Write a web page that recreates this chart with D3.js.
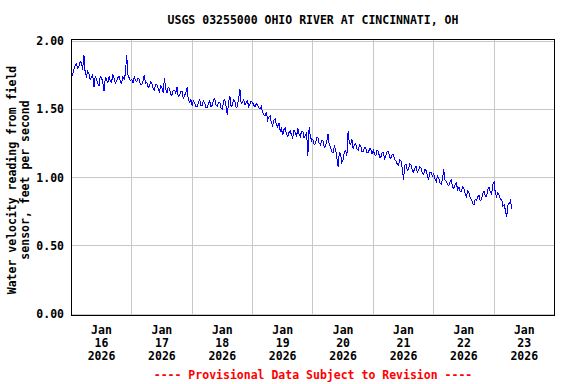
<!DOCTYPE html>
<html>
<head>
<meta charset="utf-8">
<script src="https://cdn.jsdelivr.net/npm/d3@7"></script>
<style>
  body { margin: 0; background: #fff; }
  text { font-family: 'DejaVu Sans Mono', monospace; font-weight: bold; font-size: 11.5px; }
</style>
</head>
<body>
<div id="chart"></div>
<script>
const title = 'USGS 03255000 OHIO RIVER AT CINCINNATI, OH'
const yLabel = ['Water velocity reading from field', 'sensor, feet per second']
const footer = '---- Provisional Data Subject to Revision ----'
const dayTicks = ['2026-01-16', '2026-01-17', '2026-01-18', '2026-01-19',
  '2026-01-20', '2026-01-21', '2026-01-22', '2026-01-23']
const yTicks = [0, 0.5, 1, 1.5, 2]
const startTime = '2026-01-16T00:00'
const stepMinutes = 30
// half-hourly readings, ft/s, one row per day
const velocity = [
  1.76, 1.75, 1.79, 1.82, 1.83, 1.80, 1.81, 1.85, 1.84, 1.79, 1.90, 1.77, 1.74, 1.78, 1.76, 1.72, 1.73, 1.75, 1.66, 1.74, 1.72, 1.69, 1.67, 1.74,
  1.73, 1.70, 1.63, 1.73, 1.72, 1.69, 1.74, 1.71, 1.70, 1.75, 1.73, 1.69, 1.71, 1.73, 1.74, 1.70, 1.69, 1.74, 1.72, 1.76, 1.90, 1.75, 1.73, 1.71,
  1.72, 1.69, 1.74, 1.71, 1.70, 1.73, 1.72, 1.68, 1.68, 1.71, 1.75, 1.69, 1.70, 1.66, 1.67, 1.70, 1.69, 1.65, 1.64, 1.68, 1.68, 1.65, 1.63, 1.67,
  1.66, 1.62, 1.73, 1.65, 1.62, 1.66, 1.65, 1.61, 1.60, 1.64, 1.64, 1.62, 1.66, 1.59, 1.60, 1.63, 1.63, 1.58, 1.60, 1.62, 1.66, 1.57, 1.55, 1.57,
  1.53, 1.56, 1.55, 1.52, 1.52, 1.55, 1.57, 1.53, 1.53, 1.56, 1.55, 1.51, 1.51, 1.54, 1.56, 1.52, 1.53, 1.57, 1.58, 1.53, 1.52, 1.55, 1.55, 1.51,
  1.50, 1.56, 1.57, 1.52, 1.46, 1.55, 1.60, 1.52, 1.53, 1.57, 1.56, 1.51, 1.52, 1.58, 1.65, 1.54, 1.55, 1.57, 1.53, 1.55, 1.56, 1.52, 1.54, 1.56,
  1.55, 1.53, 1.52, 1.54, 1.53, 1.51, 1.50, 1.52, 1.48, 1.46, 1.45, 1.48, 1.42, 1.44, 1.45, 1.40, 1.38, 1.42, 1.43, 1.39, 1.37, 1.40, 1.34, 1.36,
  1.31, 1.35, 1.36, 1.32, 1.30, 1.33, 1.34, 1.31, 1.29, 1.35, 1.33, 1.30, 1.36, 1.32, 1.30, 1.34, 1.34, 1.29, 1.31, 1.33, 1.16, 1.37, 1.30, 1.27,
  1.28, 1.24, 1.25, 1.29, 1.29, 1.25, 1.24, 1.27, 1.27, 1.22, 1.23, 1.26, 1.32, 1.24, 1.22, 1.19, 1.18, 1.23, 1.21, 1.15, 1.08, 1.18, 1.17, 1.11,
  1.13, 1.19, 1.20, 1.16, 1.34, 1.25, 1.24, 1.28, 1.21, 1.24, 1.25, 1.21, 1.20, 1.24, 1.23, 1.19, 1.19, 1.22, 1.22, 1.18, 1.18, 1.21, 1.21, 1.17,
  1.20, 1.17, 1.16, 1.20, 1.19, 1.15, 1.15, 1.18, 1.18, 1.14, 1.16, 1.19, 1.19, 1.15, 1.14, 1.17, 1.17, 1.13, 1.12, 1.10, 1.09, 1.13, 1.12, 1.07,
  0.98, 1.09, 1.10, 1.05, 1.06, 1.10, 1.09, 1.05, 1.04, 1.07, 1.08, 1.04, 1.05, 1.08, 1.07, 1.03, 1.02, 1.06, 1.05, 1.01, 0.99, 1.04, 1.04, 1.01,
  1.03, 0.99, 0.97, 1.01, 1.00, 0.96, 0.95, 0.99, 1.06, 0.98, 0.97, 0.95, 0.94, 0.97, 0.98, 0.93, 0.92, 0.95, 0.96, 0.91, 0.93, 0.90, 0.90, 0.93,
  0.92, 0.88, 0.86, 0.90, 0.89, 0.85, 0.84, 0.81, 0.80, 0.84, 0.83, 0.86, 0.87, 0.83, 0.84, 0.88, 0.90, 0.86, 0.86, 0.91, 0.93, 0.89, 0.88, 0.95,
  0.97, 0.88, 0.86, 0.89, 0.87, 0.84, 0.84, 0.79, 0.80, 0.76, 0.71, 0.80, 0.81, 0.83, 0.77
]

const width = 576,
  height = 384
const plot = {left: 71.5, right: 554.5, top: 39.5, bottom: 315.5}

const parseDay = d3.timeParse('%Y-%m-%d')
const parseTime = d3.timeParse('%Y-%m-%dT%H:%M')
const t0 = parseTime(startTime)
const data = velocity.map((v, i) => ({t: d3.timeMinute.offset(t0, i * stepMinutes), v: v}))
const days = dayTicks.map(parseDay)

const x = d3.scaleTime()
  .domain([days[0], d3.timeDay.offset(days[days.length - 1], 1)])
  .range([71.3, 554.5])
const y = d3.scaleLinear()
  .domain([0, 2])
  .range([314, 41])

const svg = d3.select('#chart').append('svg')
  .attr('width', width)
  .attr('height', height)

const snap = v => Math.floor(v) + 0.5

// grid
svg.append('g')
  .selectAll('line')
  .data(days.slice(1))
  .enter().append('line')
  .attr('x1', d => snap(x(d)))
  .attr('x2', d => snap(x(d)))
  .attr('y1', plot.top)
  .attr('y2', plot.bottom)
  .attr('stroke', '#c8c8c8')
svg.append('g')
  .selectAll('line')
  .data(yTicks)
  .enter().append('line')
  .attr('x1', plot.left)
  .attr('x2', plot.right)
  .attr('y1', d => snap(y(d)))
  .attr('y2', d => snap(y(d)))
  .attr('stroke', '#c8c8c8')

const line = d3.line()
  .x(d => x(d.t))
  .y(d => y(d.v))
svg.append('path')
  .datum(data)
  .attr('d', line)
  .attr('fill', 'none')
  .attr('stroke', '#0000ff')
  .attr('stroke-width', 1)
  .attr('shape-rendering', 'crispEdges')

svg.append('rect')
  .attr('x', plot.left)
  .attr('y', plot.top)
  .attr('width', plot.right - plot.left)
  .attr('height', plot.bottom - plot.top)
  .attr('fill', 'none')
  .attr('stroke', '#000')

// y tick labels
svg.append('g')
  .selectAll('text')
  .data(yTicks)
  .enter().append('text')
  .attr('x', 64)
  .attr('y', d => y(d) + 4)
  .attr('text-anchor', 'end')
  .text(d3.format('.2f'))

// x tick labels, centred on each day
const fmt = [d3.timeFormat('%b'), d3.timeFormat('%d'), d3.timeFormat('%Y')]
const xl = svg.append('g')
  .selectAll('text')
  .data(days)
  .enter().append('text')
  .attr('x', d => x(d3.timeHour.offset(d, 12)))
  .attr('y', 334)
  .attr('text-anchor', 'middle')
fmt.forEach((f, i) => {
  xl.append('tspan')
    .attr('x', d => x(d3.timeHour.offset(d, 12)))
    .attr('dy', i === 0 ? 0 : 13)
    .text(f)
})

svg.append('text')
  .attr('x', (plot.left + plot.right) / 2)
  .attr('y', 24)
  .attr('text-anchor', 'middle')
  .text(title)

yLabel.forEach((s, i) => {
  svg.append('text')
    .attr('transform', `translate(${16 + i * 12.5}, 180) rotate(-90)`)
    .attr('text-anchor', 'middle')
    .text(s)
})

svg.append('text')
  .attr('x', (plot.left + plot.right) / 2)
  .attr('y', 379)
  .attr('text-anchor', 'middle')
  .attr('fill', '#ff0000')
  .text(footer)
</script>
</body>
</html>
